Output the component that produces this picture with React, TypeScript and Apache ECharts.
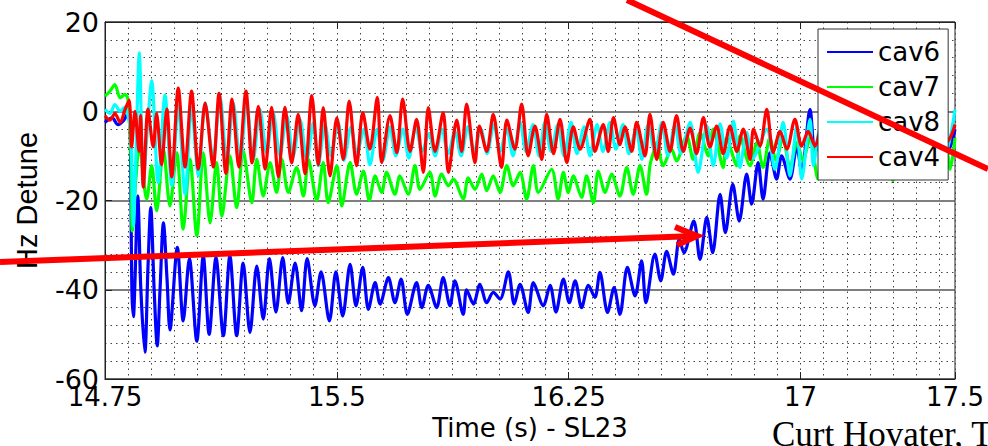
import React, { useEffect, useRef } from "react";
import * as echarts from "echarts";

// ---- axis definitions ----
const xRange = [14.75, 17.5];
const xStep = 0.75;
const yRange = [-60, 20];
const yStep = 20;
const seriesNames = ["cav6", "cav7", "cav8", "cav4"];
const seriesColors = ["#0000ff", "#00ff00", "#00ffff", "#ff0000"];
const xTitle = "Time (s) - SL23";
const yTitle = "Hz Detune";
const footerText = "Curt Hovater, T";

// ---- series data: [time (s), detune (Hz)] ----
const cav6Data = [
  [14.75, -2.5], [14.773, -1.5], [14.792, -3.0], [14.811, -2.0], [14.824, -0.5], [14.831, -3],
  [14.837, -40], [14.842, -46], [14.847, -38], [14.856, -19], [14.866, -40], [14.879, -54],
  [14.889, -35], [14.898, -21.6], [14.909, -40], [14.919, -52.6], [14.928, -40], [14.939, -25],
  [14.951, -38], [14.96, -49], [14.984, -30.5], [15.003, -47], [15.023, -33], [15.047, -51.5],
  [15.068, -32.4], [15.087, -50], [15.109, -32.8], [15.133, -50.3], [15.154, -32.4], [15.176, -50.3],
  [15.197, -34], [15.219, -49.6], [15.241, -34.7], [15.262, -46.6], [15.282, -33], [15.303, -45],
  [15.325, -32.8], [15.343, -43], [15.365, -34], [15.386, -44.7], [15.404, -33], [15.429, -43.6],
  [15.449, -36], [15.476, -47], [15.497, -36], [15.519, -45.9], [15.543, -34.3], [15.562, -43.6],
  [15.584, -35], [15.602, -44.4], [15.624, -38.4], [15.64, -43.2], [15.667, -37.3], [15.688, -42.9],
  [15.708, -37.6], [15.728, -45.5], [15.758, -38.4], [15.775, -44], [15.796, -39], [15.823, -44],
  [15.844, -37.3], [15.866, -43.6], [15.882, -38], [15.909, -45.5], [15.92, -40], [15.942, -43.2],
  [15.963, -38.8], [15.985, -42.9], [16.006, -40.6], [16.028, -42.1], [16.055, -36], [16.074, -43.2],
  [16.093, -38.8], [16.119, -45.1], [16.136, -38.4], [16.168, -43.6], [16.19, -39], [16.209, -45],
  [16.233, -37.6], [16.252, -42.9], [16.271, -38], [16.292, -44], [16.314, -39], [16.335, -41.7],
  [16.351, -36.1], [16.376, -45.1], [16.397, -39.5], [16.416, -45.5], [16.44, -35], [16.465, -41.4],
  [16.486, -33.5], [16.5, -42.9], [16.529, -32], [16.548, -38], [16.567, -31.4], [16.589, -36.5],
  [16.608, -28.7], [16.623, -31.7], [16.655, -24.6], [16.675, -33.2], [16.697, -23.8], [16.716, -31.7],
  [16.74, -18.6], [16.757, -27.2], [16.781, -16.4], [16.802, -24.6], [16.826, -14.1], [16.842, -20.8],
  [16.863, -11.5], [16.879, -19.7], [16.901, -9.3], [16.923, -15.2], [16.939, -10], [16.966, -15.2],
  [16.988, -8], [17.004, -13.5], [17.031, 0.4], [17.047, -9.3], [17.07, -4], [17.095, -10],
  [17.121, -5], [17.147, -11], [17.173, -6], [17.199, -11], [17.225, -6], [17.251, -12],
  [17.277, -7], [17.302, -11], [17.328, -6], [17.354, -12], [17.38, -7], [17.406, -11],
  [17.432, -6], [17.458, -10], [17.484, -8], [17.5, -4],
];

const cav7Data = [
  [14.75, 3.4], [14.766, 4.5], [14.782, 6.0], [14.799, 3.0], [14.815, 3.8], [14.824, 2.7],
  [14.834, -10], [14.838, -26.8], [14.85, -15], [14.861, -7.8], [14.885, -19.7], [14.901, -12.2],
  [14.917, -22.3], [14.939, -8.5], [14.96, -21.2], [14.982, -9.3], [15.003, -26.4], [15.025, -10.8],
  [15.047, -27.9], [15.068, -9.3], [15.09, -25], [15.111, -11.5], [15.128, -23.5], [15.154, -10],
  [15.176, -21.6], [15.197, -8.9], [15.225, -20.5], [15.241, -10.8], [15.262, -19], [15.284, -11.5],
  [15.305, -18.2], [15.322, -10.8], [15.343, -18.2], [15.37, -12.6], [15.392, -19], [15.408, -10.8],
  [15.435, -20], [15.456, -11.5], [15.472, -20.5], [15.5, -12.2], [15.516, -21.2], [15.543, -11.5],
  [15.564, -18.6], [15.586, -13.4], [15.605, -20], [15.624, -14.5], [15.645, -18.2], [15.661, -13.7],
  [15.688, -18.6], [15.704, -14.5], [15.731, -18.6], [15.753, -12.2], [15.769, -17.5], [15.801, -13.7],
  [15.818, -19], [15.839, -14.1], [15.861, -16.7], [15.877, -15.2], [15.909, -19.7], [15.925, -14.9],
  [15.947, -17.5], [15.969, -14.1], [15.985, -17.8], [16.006, -14.5], [16.028, -18.2], [16.05, -12.2],
  [16.071, -16.7], [16.093, -13.7], [16.114, -19.7], [16.136, -12.2], [16.152, -18.2], [16.195, -13],
  [16.216, -19.7], [16.233, -13.7], [16.249, -18.2], [16.265, -14.5], [16.292, -19.3], [16.308, -14.5],
  [16.33, -20.5], [16.346, -13.4], [16.368, -18.2], [16.389, -14.1], [16.416, -19], [16.438, -12.6],
  [16.459, -18.6], [16.481, -12.2], [16.502, -18.6], [16.513, -12.2], [16.524, -9.3], [16.535, -7],
  [16.556, -12.2], [16.583, -8.5], [16.599, -11.1], [16.632, -5.5], [16.653, -10.8], [16.675, -4.8],
  [16.702, -10], [16.718, -4], [16.75, -12.6], [16.761, -6], [16.794, -12.2], [16.804, -5.5],
  [16.837, -12.2], [16.859, -7], [16.879, -12.6], [16.901, -6], [16.921, -11], [16.943, -6],
  [16.966, -12.6], [16.989, -7], [17.008, -11], [17.031, -6], [17.057, -15.2], [17.079, -8],
  [17.102, -15.2], [17.128, -8], [17.154, -12], [17.18, -7], [17.205, -12], [17.231, -7],
  [17.257, -12], [17.28, -8], [17.299, -15.5], [17.322, -8], [17.345, -15], [17.367, -8],
  [17.393, -12], [17.419, -7], [17.445, -12], [17.471, -8], [17.484, -13], [17.5, -6],
];

const cav8Data = [
  [14.75, 0.4], [14.766, -0.5], [14.782, 1.5], [14.799, 0], [14.815, 1.0], [14.824, -1],
  [14.834, -5], [14.842, -25.7], [14.85, -10], [14.861, 13.1], [14.874, -16.7], [14.886, -5],
  [14.901, 6.8], [14.922, -16], [14.944, 3.6], [14.966, -16.7], [14.987, 1.2], [15.009, -18.6],
  [15.03, 0.8], [15.052, -14.5], [15.074, 1.9], [15.1, -10.8], [15.122, 3.4], [15.144, -11.5],
  [15.165, 1.9], [15.187, -11.5], [15.208, 1.9], [15.23, -10.8], [15.251, 0.4], [15.273, -9.3],
  [15.294, -0.3], [15.316, -10], [15.338, -1.0], [15.359, -10], [15.381, -1.8], [15.403, -10.8],
  [15.424, -2.5], [15.44, -12.2], [15.462, -3], [15.481, -10], [15.504, -2.5], [15.523, -11],
  [15.546, -3.5], [15.565, -9.5], [15.588, -4], [15.607, -12], [15.63, -4], [15.649, -11],
  [15.672, -3.5], [15.691, -10], [15.714, -4], [15.733, -10.5], [15.756, -3.5], [15.776, -9],
  [15.798, -5], [15.818, -10], [15.84, -4], [15.86, -9.5], [15.882, -4.5], [15.902, -10],
  [15.924, -3.5], [15.944, -9], [15.966, -4], [15.986, -9.5], [16.008, -3], [16.028, -9],
  [16.05, -4], [16.07, -10], [16.093, -2.5], [16.112, -9], [16.135, -3], [16.154, -10],
  [16.173, -2.5], [16.193, -9], [16.215, -3], [16.235, -10], [16.258, -2.5], [16.277, -9.5],
  [16.3, -3.5], [16.319, -10], [16.342, -3], [16.361, -9], [16.384, -2.5], [16.403, -8.5],
  [16.426, -3], [16.445, -9.5], [16.468, -4], [16.487, -10.8], [16.507, -3], [16.529, -9],
  [16.552, -2.5], [16.571, -10], [16.594, -3], [16.613, -9.5], [16.643, -2.5], [16.669, -13.7],
  [16.697, -3.2], [16.718, -12.2], [16.74, -2.8], [16.761, -10.5], [16.783, -2.2], [16.804, -12.6],
  [16.826, -4.8], [16.846, -10.5], [16.891, -4], [16.917, -13], [16.944, -2.5], [16.966, -14.5],
  [16.988, -3.3], [17.004, -15.2], [17.031, -1.8], [17.042, -12.2], [17.063, -4], [17.089, -11],
  [17.115, -4], [17.141, -10], [17.167, -3], [17.192, -10], [17.218, -4], [17.244, -11],
  [17.27, -3], [17.296, -10], [17.322, -4], [17.348, -11], [17.374, -3], [17.4, -10],
  [17.425, -4], [17.451, -11], [17.477, -8], [17.5, 0.4],
];

const cav4Data = [
  [14.75, -1], [14.766, -2], [14.782, -0.5], [14.799, -2.5], [14.815, 0.4], [14.828, 2.5],
  [14.836, -8], [14.847, 0], [14.86, -9], [14.865, -1], [14.874, -17], [14.889, 0.5],
  [14.906, -8], [14.917, -0.5], [14.933, -12], [14.95, 0.5], [14.966, -14.7], [14.987, 5.2],
  [15.009, -12.5], [15.03, 4.5], [15.052, -13], [15.074, 1.8], [15.1, -12.5], [15.119, 4],
  [15.141, -13.9], [15.161, 2.7], [15.183, -12.5], [15.206, 4.5], [15.226, -11.6], [15.246, 1.1],
  [15.268, -13], [15.289, 0.9], [15.311, -14.7], [15.332, 0.9], [15.354, -11.6], [15.375, -0.7],
  [15.397, -14], [15.419, 3.5], [15.44, -12], [15.456, 0.8], [15.478, -14.5], [15.5, -1.5],
  [15.521, -10.8], [15.54, 2.3], [15.564, -12.2], [15.584, -0.3], [15.607, -8.5], [15.631, 3.1],
  [15.645, -11.5], [15.672, -1], [15.694, -9.3], [15.713, 2.7], [15.737, -9], [15.758, -1.8],
  [15.78, -13.7], [15.796, 0.8], [15.818, -9], [15.844, -0.3], [15.861, -13.7], [15.888, -2],
  [15.904, -9], [15.92, 1.6], [15.947, -11.5], [15.961, -3.3], [15.985, -9], [16.006, -0.7],
  [16.033, -12.6], [16.05, -2], [16.076, -8.5], [16.098, 1.6], [16.119, -10], [16.141, -3.3],
  [16.163, -10.8], [16.179, -0.7], [16.201, -9.5], [16.222, -1.8], [16.244, -11.5], [16.265, -3.5],
  [16.287, -8.5], [16.319, -1.8], [16.335, -9], [16.362, -3], [16.378, -9], [16.395, -1.4],
  [16.416, -7.5], [16.432, -3.5], [16.454, -9], [16.47, -2.5], [16.497, -10], [16.513, -0.7],
  [16.535, -10.8], [16.556, -2.5], [16.578, -9], [16.599, -1], [16.621, -9], [16.643, -3.8],
  [16.664, -9.5], [16.686, -1.4], [16.707, -8], [16.729, -3.3], [16.75, -9.5], [16.772, -3.3],
  [16.794, -9], [16.815, -4], [16.837, -10.8], [16.848, -4], [16.869, -7.8], [16.891, 0.4],
  [16.912, -9.3], [16.934, -4.5], [16.956, -8.5], [16.982, -1.8], [17.004, -7.8], [17.025, -4.5],
  [17.047, -7.8], [17.07, -3], [17.095, -9], [17.121, -2], [17.147, -8], [17.173, -3],
  [17.199, -9], [17.225, -2], [17.251, -8], [17.277, -3], [17.302, -9], [17.328, -2],
  [17.354, -8], [17.38, -3], [17.406, -9], [17.432, -3], [17.458, -8], [17.484, -6], [17.5, -3],
];

const seriesData = [cav6Data, cav7Data, cav8Data, cav4Data];

const FONT = "DejaVu Sans";
const dotted = { type: [1.5, 4] as any, color: "#444", width: 1 };

export default function App() {
  const ref = useRef<HTMLDivElement>(null);

  useEffect(() => {
    if (!ref.current) return;
    const chart = echarts.init(ref.current, undefined, { renderer: "svg" });

    const option: any = {
      animation: false,
      backgroundColor: "#ffffff",
      grid: {
        left: 105,
        top: 22,
        width: 850,
        height: 357,
        show: true,
        borderColor: "#222",
        borderWidth: 1,
        backgroundColor: "#ffffff",
      },
      legend: {
        orient: "vertical",
        left: 818,
        top: 29,
        padding: [10, 8, 10, 8],
        itemGap: 9,
        itemWidth: 46,
        itemHeight: 26,
        backgroundColor: "#ffffff",
        borderColor: "#333",
        borderWidth: 1,
        borderRadius: 0,
        data: seriesNames,
        lineStyle: { width: 2 },
        itemStyle: { opacity: 0 },
        textStyle: { fontFamily: FONT, fontSize: 26, color: "#000" },
        z: 10,
      },
      xAxis: [
        {
          type: "value",
          min: xRange[0],
          max: xRange[1],
          interval: xStep,
          position: "bottom",
          name: xTitle,
          nameLocation: "middle",
          nameGap: 36,
          nameTextStyle: { fontFamily: FONT, fontSize: 26, color: "#000" },
          axisLine: { show: true, onZero: false, lineStyle: { color: "#222", width: 1 } },
          axisTick: { show: true, inside: true, length: 7, lineStyle: { color: "#222" } },
          axisLabel: { fontFamily: FONT, fontSize: 26, color: "#000", margin: 5 },
          splitLine: { show: true, lineStyle: dotted },
          minorTick: { show: false, splitNumber: 10 },
          minorSplitLine: { show: true, lineStyle: dotted },
        },
        {
          type: "value",
          min: xRange[0],
          max: xRange[1],
          interval: xStep,
          position: "top",
          axisLine: { show: true, onZero: false, lineStyle: { color: "#222", width: 1 } },
          axisTick: { show: true, inside: true, length: 7, lineStyle: { color: "#222" } },
          axisLabel: { show: false },
          splitLine: { show: false },
        },
      ],
      yAxis: {
        type: "value",
        min: yRange[0],
        max: yRange[1],
        interval: yStep,
        name: yTitle,
        nameLocation: "middle",
        nameRotate: 90,
        nameGap: 64,
        nameTextStyle: { fontFamily: "Liberation Sans", fontSize: 29, color: "#000" },
        axisLine: { show: true, onZero: false, lineStyle: { color: "#222", width: 1 } },
        axisTick: { show: true, inside: true, length: 7, lineStyle: { color: "#222" } },
        axisLabel: { fontFamily: FONT, fontSize: 27, color: "#000", margin: 6 },
        splitLine: { show: true, lineStyle: { color: "#555", width: 1.5, type: "solid" } },
        minorTick: { show: false, splitNumber: 5 },
        minorSplitLine: { show: true, lineStyle: dotted },
      },
      series: seriesNames.map((name, i) => ({
        name,
        type: "line",
        xAxisIndex: 0,
        data: seriesData[i],
        showSymbol: false,
        symbol: "none",
        smooth: 0.3,
        lineStyle: { color: seriesColors[i], width: 3.2 },
        itemStyle: { color: seriesColors[i] },
        z: 2 + i,
      })),
      graphic: [
        {
          type: "line",
          z: 100,
          silent: true,
          shape: { x1: 627, y1: 0, x2: 988, y2: 169 },
          style: { stroke: "#ff0000", lineWidth: 6 },
        },
        {
          type: "line",
          z: 100,
          silent: true,
          shape: { x1: 0, y1: 262, x2: 695, y2: 236 },
          style: { stroke: "#ff0000", lineWidth: 6 },
        },
        {
          type: "polyline",
          z: 100,
          silent: true,
          shape: { points: [[675, 227], [697, 236], [677, 245]] },
          style: { stroke: "#ff0000", lineWidth: 6, fill: "none" },
        },
        {
          type: "text",
          z: 100,
          silent: true,
          x: 772,
          y: 417,
          style: {
            text: footerText,
            fontFamily: "Liberation Serif",
            fontSize: 35,
            fill: "#000",
            verticalAlign: "top",
            align: "left",
          },
        },
      ],
    };

    chart.setOption(option);
    return () => chart.dispose();
  }, []);

  return (
    <div
      ref={ref}
      style={{ position: "fixed", left: 0, top: 0, width: 988, height: 446, background: "#fff" }}
    />
  );
}
